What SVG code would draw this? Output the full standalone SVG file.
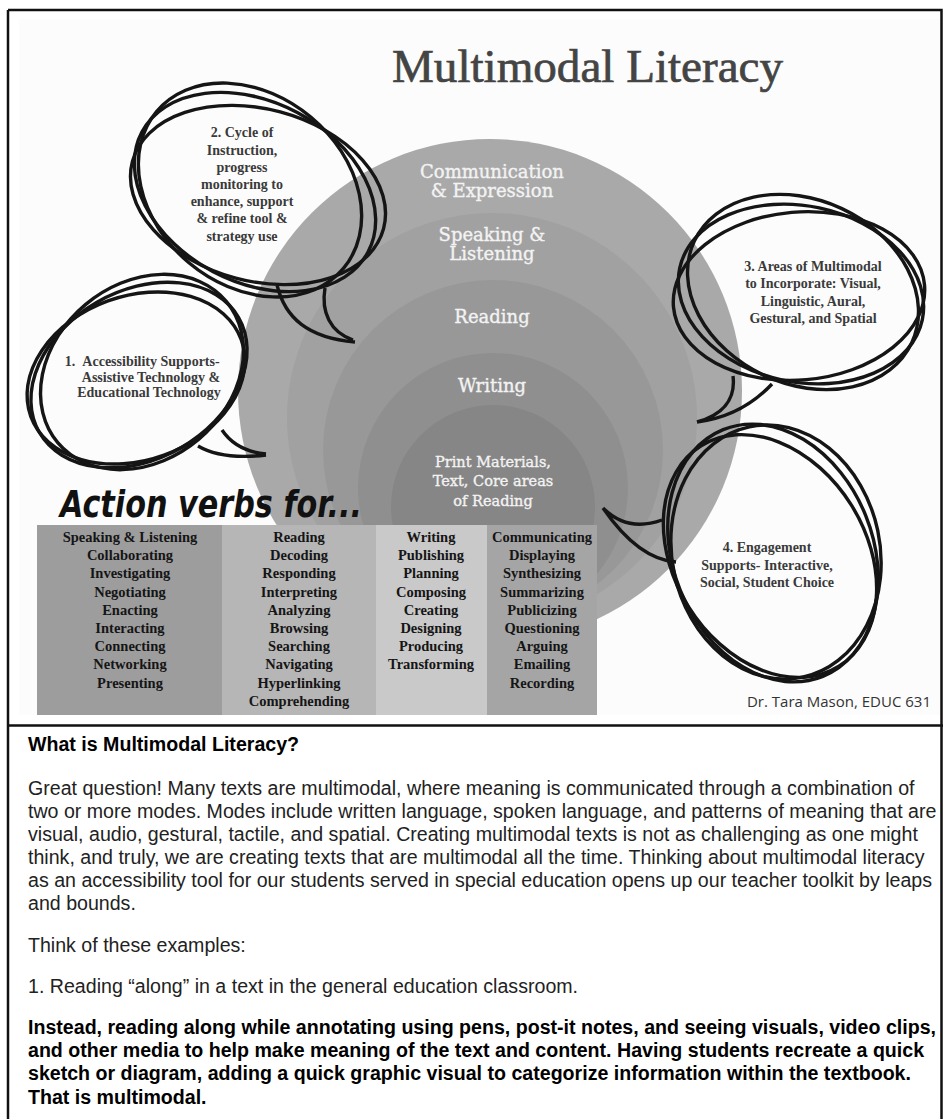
<svg xmlns="http://www.w3.org/2000/svg" width="943" height="1119" viewBox="0 0 943 1119">
<style>
.frame{stroke:#111;stroke-width:2.5;fill:none}
.ctext{font-family:"DejaVu Serif","Liberation Serif",serif;font-size:18px;fill:#f3f3f3;stroke:#f3f3f3;stroke-width:0.35;text-anchor:middle}
.ptext{font-size:14.5px}
.btext{font-family:"Liberation Serif",serif;font-weight:bold;font-size:14px;fill:#3a3a3a;text-anchor:middle}
.loop{fill:none;stroke:#151515;stroke-width:3.4}
.ttext{font-family:"Liberation Serif",serif;font-weight:bold;font-size:14.5px;fill:#151515;text-anchor:middle}
.body{font-family:"Liberation Sans",Arial,sans-serif;font-size:19.6px;fill:#222}
.bold{font-weight:bold;fill:#000}
</style>
<rect x="0" y="0" width="943" height="1119" fill="#ffffff"/>
<rect x="19" y="19" width="922" height="696" fill="#fcfcfc"/>

<g id="title">
<text x="392" y="82" font-family="Liberation Serif,serif" font-size="47" fill="#444" stroke="#444" stroke-width="0.7" textLength="391" lengthAdjust="spacingAndGlyphs">Multimodal Literacy</text>
</g>

<g id="circles">
<g id="circle-communication"><circle cx="490" cy="391" r="252" fill="#a9a9a9"/></g>
<g id="circle-speaking"><circle cx="492" cy="418" r="205" fill="#a1a1a1"/></g>
<g id="circle-reading"><circle cx="493" cy="450" r="170" fill="#989898"/></g>
<g id="circle-writing"><circle cx="493" cy="488" r="135" fill="#8f8f8f"/></g>
<g id="circle-print"><circle cx="493" cy="507" r="102" fill="#868686"/></g>
<text class="ctext" x="492" y="178">Communication</text>
<text class="ctext" x="492" y="197">&amp; Expression</text>
<text class="ctext" x="492" y="241">Speaking &amp;</text>
<text class="ctext" x="492" y="260">Listening</text>
<text class="ctext" x="492" y="323">Reading</text>
<text class="ctext" x="492" y="392">Writing</text>
<text class="ctext ptext" x="493" y="467">Print Materials,</text>
<text class="ctext ptext" x="493" y="486">Text, Core areas</text>
<text class="ctext ptext" x="493" y="506">of Reading</text>
</g>

<g id="bubble-2">
<ellipse class="loop" cx="255" cy="192" rx="128" ry="90" transform="rotate(28 255 192)"/>
<ellipse class="loop" cx="250" cy="190" rx="122" ry="95" transform="rotate(40 250 190)"/>
<ellipse class="loop" cx="258" cy="195" rx="130" ry="86" transform="rotate(15 258 195)"/>
<path class="loop" d="M277,285 C285,318 308,338 355,342 M325,288 C321,312 330,332 353,340"/>
<text class="btext" x="242" y="137">2. Cycle of</text>
<text class="btext" x="242" y="155">Instruction,</text>
<text class="btext" x="242" y="172">progress</text>
<text class="btext" x="242" y="189">monitoring to</text>
<text class="btext" x="242" y="206">enhance, support</text>
<text class="btext" x="242" y="223">&amp; refine tool &amp;</text>
<text class="btext" x="242" y="241">strategy use</text>
</g>

<g id="bubble-1">
<ellipse class="loop" cx="139" cy="375" rx="115" ry="84" transform="rotate(-30 139 375)"/>
<ellipse class="loop" cx="142" cy="372" rx="110" ry="88" transform="rotate(-40 142 372)"/>
<ellipse class="loop" cx="136" cy="378" rx="112" ry="82" transform="rotate(-20 136 378)"/>
<path class="loop" d="M222,430 C232,445 246,452 266,454 M198,446 C215,456 240,458 266,455"/>
<text class="btext" x="70" y="366" font-size="12.5" text-anchor="start">1.</text>
<text class="btext" x="151" y="366" font-size="12.5">Accessibility Supports-</text>
<text class="btext" x="151" y="382" font-size="12.5">Assistive Technology &amp;</text>
<text class="btext" x="149" y="397" font-size="12.5">Educational Technology</text>
</g>

<g id="bubble-3">
<ellipse class="loop" cx="801" cy="294" rx="124" ry="88" transform="rotate(12 801 294)"/>
<ellipse class="loop" cx="803" cy="292" rx="120" ry="92" transform="rotate(25 803 292)"/>
<ellipse class="loop" cx="799" cy="296" rx="126" ry="84" transform="rotate(-5 799 296)"/>
<path class="loop" d="M733,376 C736,400 722,415 697,422 M772,384 C755,402 730,418 697,422"/>
<text class="btext" x="813" y="271">3. Areas of Multimodal</text>
<text class="btext" x="813" y="288">to Incorporate: Visual,</text>
<text class="btext" x="813" y="306">Linguistic, Aural,</text>
<text class="btext" x="813" y="323">Gestural, and Spatial</text>
</g>

<g id="bubble-4">
<ellipse class="loop" cx="773" cy="553" rx="100" ry="133" transform="rotate(-22 773 553)"/>
<ellipse class="loop" cx="770" cy="556" rx="96" ry="130" transform="rotate(-32 770 556)"/>
<ellipse class="loop" cx="776" cy="552" rx="104" ry="128" transform="rotate(-12 776 552)"/>
<path class="loop" d="M603,508 C620,525 640,528 662,520 M603,508 C625,540 650,560 676,562"/>
<text class="btext" x="767" y="552" font-size="13.5">4. Engagement</text>
<text class="btext" x="767" y="570" font-size="13.5">Supports- Interactive,</text>
<text class="btext" x="767" y="587" font-size="13.5">Social, Student Choice</text>
</g>

<g id="credit">
<text x="931" y="707" font-family="Open Sans,sans-serif" font-size="15" fill="#333" text-anchor="end">Dr. Tara Mason, EDUC 631</text>
</g>

<g id="action-heading">
<text x="60" y="517" font-family="DejaVu Sans Condensed,DejaVu Sans,sans-serif" font-weight="bold" font-style="italic" font-size="38" fill="#111" textLength="302" lengthAdjust="spacingAndGlyphs">Action verbs for...</text>
</g>

<g id="col-speaking">
<rect x="37" y="525" width="185" height="190" fill="#9d9d9d"/>
<text class="ttext" x="130" y="542">Speaking &amp; Listening</text>
<text class="ttext" x="130" y="560.2">Collaborating</text>
<text class="ttext" x="130" y="578.4">Investigating</text>
<text class="ttext" x="130" y="596.6">Negotiating</text>
<text class="ttext" x="130" y="614.8">Enacting</text>
<text class="ttext" x="130" y="633">Interacting</text>
<text class="ttext" x="130" y="651.2">Connecting</text>
<text class="ttext" x="130" y="669.4">Networking</text>
<text class="ttext" x="130" y="687.6">Presenting</text>
</g>
<g id="col-reading">
<rect x="222" y="525" width="154" height="190" fill="#b6b6b6"/>
<text class="ttext" x="299" y="542">Reading</text>
<text class="ttext" x="299" y="560.2">Decoding</text>
<text class="ttext" x="299" y="578.4">Responding</text>
<text class="ttext" x="299" y="596.6">Interpreting</text>
<text class="ttext" x="299" y="614.8">Analyzing</text>
<text class="ttext" x="299" y="633">Browsing</text>
<text class="ttext" x="299" y="651.2">Searching</text>
<text class="ttext" x="299" y="669.4">Navigating</text>
<text class="ttext" x="299" y="687.6">Hyperlinking</text>
<text class="ttext" x="299" y="705.8">Comprehending</text>
</g>
<g id="col-writing">
<rect x="376" y="525" width="111" height="190" fill="#c9c9c9"/>
<text class="ttext" x="431" y="542">Writing</text>
<text class="ttext" x="431" y="560.2">Publishing</text>
<text class="ttext" x="431" y="578.4">Planning</text>
<text class="ttext" x="431" y="596.6">Composing</text>
<text class="ttext" x="431" y="614.8">Creating</text>
<text class="ttext" x="431" y="633">Designing</text>
<text class="ttext" x="431" y="651.2">Producing</text>
<text class="ttext" x="431" y="669.4">Transforming</text>
</g>
<g id="col-communicating">
<rect x="487" y="525" width="110" height="190" fill="#a5a5a5"/>
<text class="ttext" x="542" y="542">Communicating</text>
<text class="ttext" x="542" y="560.2">Displaying</text>
<text class="ttext" x="542" y="578.4">Synthesizing</text>
<text class="ttext" x="542" y="596.6">Summarizing</text>
<text class="ttext" x="542" y="614.8">Publicizing</text>
<text class="ttext" x="542" y="633">Questioning</text>
<text class="ttext" x="542" y="651.2">Arguing</text>
<text class="ttext" x="542" y="669.4">Emailing</text>
<text class="ttext" x="542" y="687.6">Recording</text>
</g>

<g id="frame">
<path class="frame" d="M8,10 H941.5 V1119 M8,10 V1119 M8,725.5 H943"/>
</g>

<g id="article">
<text class="body bold" x="28" y="751">What is Multimodal Literacy?</text>
<text class="body" x="28" y="795">Great question! Many texts are multimodal, where meaning is communicated through a combination of</text>
<text class="body" x="28" y="818">two or more modes. Modes include written language, spoken language, and patterns of meaning that are</text>
<text class="body" x="28" y="841">visual, audio, gestural, tactile, and spatial. Creating multimodal texts is not as challenging as one might</text>
<text class="body" x="28" y="864">think, and truly, we are creating texts that are multimodal all the time. Thinking about multimodal literacy</text>
<text class="body" x="28" y="887">as an accessibility tool for our students served in special education opens up our teacher toolkit by leaps</text>
<text class="body" x="28" y="910">and bounds.</text>
<text class="body" x="28" y="952">Think of these examples:</text>
<text class="body" x="28" y="993">1. Reading “along” in a text in the general education classroom.</text>
<text class="body bold" x="28" y="1034">Instead, reading along while annotating using pens, post-it notes, and seeing visuals, video clips,</text>
<text class="body bold" x="28" y="1057">and other media to help make meaning of the text and content. Having students recreate a quick</text>
<text class="body bold" x="28" y="1080">sketch or diagram, adding a quick graphic visual to categorize information within the textbook.</text>
<text class="body bold" x="28" y="1104">That is multimodal.</text>
</g>
</svg>
